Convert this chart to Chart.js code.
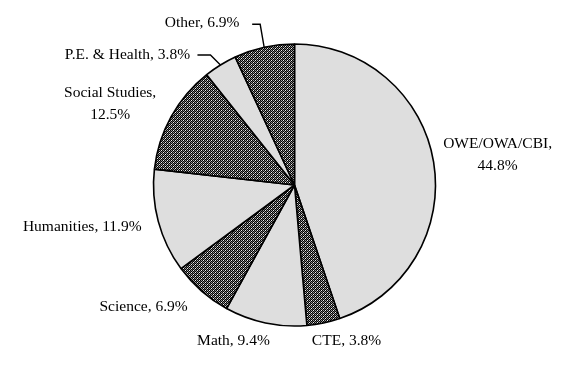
<!DOCTYPE html>
<html>
<head>
<meta charset="utf-8">
<script src="https://cdn.jsdelivr.net/npm/chart.js@4"></script>
<style>
  html, body { margin: 0; padding: 0; background: #ffffff; }
  canvas { display: block; }
</style>
</head>
<body>
<canvas id="c" width="577" height="377"></canvas>
<script>
// ---- data ----
const categories = ["OWE/OWA/CBI", "CTE", "Math", "Science", "Humanities", "Social Studies", "P.E. & Health", "Other"];
const shares = [44.8, 3.8, 9.4, 6.9, 11.9, 12.5, 3.8, 6.9];
const labelLines = [
  ["OWE/OWA/CBI,", "44.8%"],
  ["CTE, 3.8%"],
  ["Math, 9.4%"],
  ["Science, 6.9%"],
  ["Humanities, 11.9%"],
  ["Social Studies,", "12.5%"],
  ["P.E. & Health, 3.8%"],
  ["Other, 6.9%"]
];
const fillKinds = ["light", "hatch", "light", "hatch", "light", "hatch", "light", "hatch"];

// ---- hatch pattern ----
function makeHatch() {
  const K = "#000000", D = "#555555", G = "#9a9a9a", W = "#f0f0f0";
  const tile = [
    [K, G, K, W],
    [D, K, G, K],
    [K, W, K, G],
    [G, K, D, K]
  ];
  const c = document.createElement("canvas");
  c.width = 4; c.height = 4;
  const x = c.getContext("2d");
  for (let r = 0; r < 4; r++) for (let q = 0; q < 4; q++) {
    x.fillStyle = tile[r][q];
    x.fillRect(q, r, 1, 1);
  }
  return document.getElementById("c").getContext("2d").createPattern(c, "repeat");
}
const hatch = makeHatch();
const colors = fillKinds.map(k => k === "light" ? "#dedede" : hatch);

// label placement relative to slice outer midpoint (dx, dy of first line center)
const labelOffsets = [
  [64, -18], [23, 18], [-32, 18], [-58, 16], [-76, 6], [-61, -24], [-93, -10], [-62, -24]
];
// leader lines: [elbow dx, elbow dy, horizontal length]
const leaders = { 6: [-10, -10, -13], 7: [-4, -23, -8] };

const labelPlugin = {
  id: "sliceLabels",
  afterDatasetsDraw(chart) {
    const ctx = chart.ctx;
    const meta = chart.getDatasetMeta(0);
    ctx.save();
    ctx.font = "15.5px 'Liberation Serif', 'Times New Roman', serif";
    ctx.fillStyle = "#000";
    ctx.textAlign = "center";
    ctx.textBaseline = "middle";
    meta.data.forEach((arc, i) => {
      const p = arc.getProps(["x", "y", "startAngle", "endAngle", "outerRadius"], true);
      const mid = (p.startAngle + p.endAngle) / 2;
      const ax = p.x + Math.cos(mid) * p.outerRadius;
      const ay = p.y + Math.sin(mid) * p.outerRadius;
      const [dx, dy] = labelOffsets[i];
      labelLines[i].forEach((t, j) => {
        ctx.fillText(t, ax + dx, ay + dy + j * 22);
      });
      if (leaders[i]) {
        const [ex, ey, hl] = leaders[i];
        ctx.beginPath();
        ctx.strokeStyle = "#000";
        ctx.lineWidth = 1.4;
        ctx.moveTo(ax, ay);
        ctx.lineTo(ax + ex, ay + ey);
        ctx.lineTo(ax + ex + hl, ay + ey);
        ctx.stroke();
      }
    });
    ctx.restore();
  }
};

new Chart(document.getElementById("c"), {
  type: "pie",
  data: {
    labels: categories,
    datasets: [{
      data: shares,
      backgroundColor: colors,
      borderColor: "#000000",
      borderWidth: 1.6,
      radius: 141
    }]
  },
  options: {
    responsive: false,
    animation: false,
    events: [],
    layout: { padding: { left: 150, right: 138, top: 40, bottom: 47 } },
    plugins: {
      legend: { display: false },
      tooltip: { enabled: false }
    }
  },
  plugins: [labelPlugin]
});
</script>
</body>
</html>
